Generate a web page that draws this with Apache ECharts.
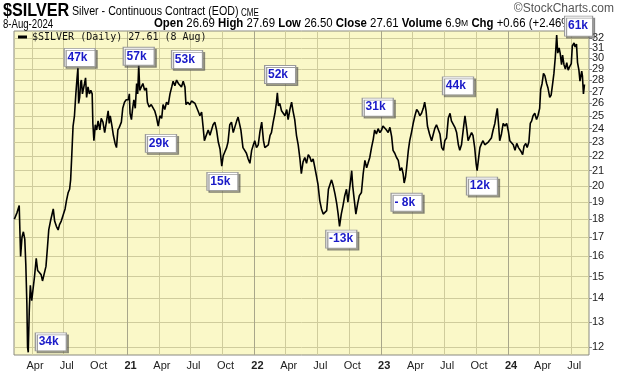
<!DOCTYPE html>
<html><head><meta charset="utf-8">
<script src="https://cdn.jsdelivr.net/npm/echarts@6/dist/echarts.min.js"></script>
<style>html,body{margin:0;padding:0;background:#fff}#c{width:620px;height:376px}</style>
</head><body><div id="c"></div>
<script>
const dates = [
'2020-02-10','2020-02-14','2020-02-18','2020-02-24','2020-02-28','2020-03-03','2020-03-07','2020-03-11','2020-03-14','2020-03-17','2020-03-19','2020-03-21','2020-03-24','2020-03-27','2020-03-31',
'2020-04-03','2020-04-08','2020-04-13','2020-04-17','2020-04-22','2020-04-27','2020-05-01','2020-05-06','2020-05-11','2020-05-15','2020-05-19','2020-05-24','2020-05-28','2020-06-01','2020-06-05',
'2020-06-10','2020-06-15','2020-06-19','2020-06-24','2020-06-29','2020-07-05','2020-07-09','2020-07-14','2020-07-18','2020-07-21','2020-07-24','2020-07-28','2020-08-01','2020-08-05','2020-08-08',
'2020-08-11','2020-08-13','2020-08-16','2020-08-19','2020-08-21','2020-08-24','2020-08-26','2020-08-30','2020-09-02','2020-09-05','2020-09-09','2020-09-13','2020-09-17','2020-09-21','2020-09-23',
'2020-09-26','2020-09-30','2020-10-04','2020-10-08','2020-10-13','2020-10-17','2020-10-22','2020-10-27','2020-11-01','2020-11-06','2020-11-09','2020-11-12','2020-11-17','2020-11-21','2020-11-26',
'2020-11-30','2020-12-04','2020-12-08','2020-12-14','2020-12-18','2020-12-23','2020-12-28',
'2021-01-03','2021-01-06','2021-01-08','2021-01-12','2021-01-15','2021-01-19','2021-01-23','2021-01-27','2021-01-30','2021-02-02','2021-02-05','2021-02-09','2021-02-14','2021-02-19','2021-02-24',
'2021-02-27','2021-03-04','2021-03-10','2021-03-15','2021-03-20','2021-03-25','2021-03-30','2021-04-04','2021-04-09','2021-04-13','2021-04-18','2021-04-23','2021-04-28','2021-05-03','2021-05-08',
'2021-05-12','2021-05-17','2021-05-22','2021-05-27','2021-05-31','2021-06-05','2021-06-10','2021-06-15','2021-06-18','2021-06-23','2021-06-29','2021-07-04','2021-07-09','2021-07-14','2021-07-19',
'2021-07-24','2021-07-28','2021-08-02','2021-08-06','2021-08-10','2021-08-14','2021-08-21','2021-08-26','2021-08-31','2021-09-04','2021-09-09','2021-09-14','2021-09-19','2021-09-24','2021-09-29',
'2021-10-03','2021-10-08','2021-10-13','2021-10-17','2021-10-22','2021-10-27','2021-11-01','2021-11-06','2021-11-11','2021-11-15','2021-11-19','2021-11-23','2021-11-29','2021-12-04','2021-12-09',
'2021-12-14','2021-12-19','2021-12-24','2021-12-29',
'2022-01-02','2022-01-07','2022-01-12','2022-01-17','2022-01-22','2022-01-27','2022-01-31','2022-02-05','2022-02-10','2022-02-15','2022-02-19','2022-02-24','2022-03-01','2022-03-05','2022-03-08',
'2022-03-11','2022-03-15','2022-03-20','2022-03-25','2022-03-30','2022-04-04','2022-04-08','2022-04-13','2022-04-18','2022-04-22','2022-04-27','2022-05-02','2022-05-07','2022-05-12','2022-05-16',
'2022-05-21','2022-05-26','2022-05-31','2022-06-05','2022-06-10','2022-06-14','2022-06-19','2022-06-24','2022-06-29','2022-07-03','2022-07-08','2022-07-13','2022-07-18','2022-07-23','2022-07-28',
'2022-08-02','2022-08-06','2022-08-11','2022-08-16','2022-08-21','2022-08-26','2022-08-30','2022-09-03','2022-09-08','2022-09-13','2022-09-18','2022-09-23','2022-09-27','2022-10-01','2022-10-05',
'2022-10-08','2022-10-11','2022-10-14','2022-10-20','2022-10-25','2022-10-30','2022-11-05','2022-11-10','2022-11-15','2022-11-20','2022-11-24','2022-11-29','2022-12-04','2022-12-09','2022-12-13',
'2022-12-18','2022-12-23','2022-12-28',
'2023-01-02','2023-01-06','2023-01-11','2023-01-16','2023-01-21','2023-01-26','2023-01-31','2023-02-04','2023-02-09','2023-02-14','2023-02-19','2023-02-24','2023-03-01','2023-03-05','2023-03-08',
'2023-03-12','2023-03-15','2023-03-20','2023-03-24','2023-03-29','2023-04-03','2023-04-08','2023-04-13','2023-04-18','2023-04-22','2023-04-27','2023-05-02','2023-05-06','2023-05-10','2023-05-14',
'2023-05-20','2023-05-26','2023-05-31','2023-06-04','2023-06-09','2023-06-14','2023-06-19','2023-06-24','2023-06-29','2023-07-03','2023-07-08','2023-07-13','2023-07-18','2023-07-22','2023-07-27',
'2023-08-01','2023-08-06','2023-08-11','2023-08-15','2023-08-20','2023-08-25','2023-08-30','2023-09-04','2023-09-08','2023-09-13','2023-09-18','2023-09-22','2023-09-27','2023-10-01','2023-10-04',
'2023-10-08','2023-10-12','2023-10-17','2023-10-21','2023-10-26','2023-10-31','2023-11-05','2023-11-10','2023-11-14','2023-11-19','2023-11-24','2023-11-28','2023-12-01','2023-12-05','2023-12-08',
'2023-12-13','2023-12-18','2023-12-23','2023-12-28',
'2024-01-02','2024-01-06','2024-01-11','2024-01-16','2024-01-21','2024-01-26','2024-01-31','2024-02-04','2024-02-08','2024-02-12','2024-02-16','2024-02-21','2024-02-25','2024-03-01','2024-03-05',
'2024-03-09','2024-03-13','2024-03-18','2024-03-23','2024-03-27','2024-04-01','2024-04-04','2024-04-08','2024-04-12','2024-04-16','2024-04-21','2024-04-25','2024-04-30','2024-05-04','2024-05-08',
'2024-05-12','2024-05-16','2024-05-20','2024-05-23','2024-05-27','2024-05-30','2024-06-03','2024-06-06','2024-06-10','2024-06-14','2024-06-18','2024-06-22','2024-06-26','2024-07-01','2024-07-04',
'2024-07-09','2024-07-12','2024-07-16','2024-07-19','2024-07-23','2024-07-26','2024-07-31','2024-08-02','2024-08-05','2024-08-07','2024-08-08'
];
const prices = [
18.0,17.9,18.4,18.8,16.0,17.0,17.3,16.9,15.6,13.8,12.0,11.8,13.5,14.6,13.9,
14.3,15.0,15.9,15.3,15.2,15.1,14.8,14.8,15.5,16.4,17.4,17.9,17.8,18.6,17.9,
17.6,17.4,17.7,17.9,18.0,18.6,19.1,19.6,19.8,20.4,21.9,24.2,25.0,26.8,28.0,
29.1,26.0,26.5,27.8,28.0,26.8,27.1,27.7,28.2,26.5,27.4,26.8,27.1,26.8,24.4,
23.1,24.3,23.9,24.6,23.9,24.8,24.5,23.7,23.7,25.4,24.4,25.0,24.2,23.5,22.9,
22.6,23.9,24.1,24.5,25.6,26.1,26.3,
26.3,26.8,25.2,24.7,25.5,26.3,25.6,27.7,26.8,29.4,27.1,27.2,27.7,27.1,27.3,
26.1,25.7,25.9,26.0,25.4,24.9,24.2,25.0,24.8,25.9,25.5,26.1,25.9,26.8,27.4,
27.9,27.5,28.0,27.7,27.7,27.4,27.9,27.4,25.9,26.1,25.9,26.2,26.3,26.0,25.9,
25.3,25.0,25.3,24.2,23.1,23.4,23.9,23.5,23.5,24.3,24.5,23.9,23.0,22.5,21.3,
22.0,22.3,22.6,23.0,24.3,24.5,23.7,23.7,24.6,24.9,25.0,23.9,22.6,22.4,22.2,
21.8,21.5,22.4,22.8,
23.1,22.6,22.8,23.8,24.5,23.1,22.6,22.5,22.8,23.5,23.7,24.5,25.2,26.0,26.9,
25.8,26.0,25.4,25.2,25.0,25.5,24.7,25.5,26.1,25.4,24.7,23.5,22.8,21.8,20.8,
21.6,21.9,21.5,22.1,21.9,21.6,21.8,21.2,20.6,20.1,19.1,18.6,18.3,18.4,18.5,
19.8,19.9,20.4,20.0,19.5,18.9,18.3,17.6,18.3,18.8,19.4,19.8,19.0,19.1,20.4,
21.0,20.0,19.4,18.3,18.9,19.4,19.6,20.8,21.7,21.2,21.5,21.9,22.6,23.2,23.9,
23.6,24.0,23.7,
23.9,24.2,24.2,23.9,23.7,24.1,23.4,22.4,22.2,21.9,21.7,21.0,21.2,20.8,20.2,
20.6,21.2,22.4,23.1,23.7,24.4,25.0,25.5,25.3,25.0,25.2,25.6,26.1,25.4,24.2,
23.6,23.1,23.6,24.0,24.3,24.2,23.6,22.6,22.4,23.1,23.3,24.8,25.2,24.6,24.7,
24.1,23.7,22.8,22.4,22.8,23.9,25.0,24.0,23.1,23.0,23.7,23.5,22.6,21.5,21.0,
21.8,22.6,22.9,23.1,22.8,22.8,23.0,23.1,23.3,23.9,24.4,25.1,25.6,24.2,23.1,
23.6,24.4,24.2,24.4,
23.8,23.1,23.0,22.8,22.4,22.9,22.6,22.6,22.3,22.1,22.7,22.9,22.6,23.0,24.4,
24.6,25.0,25.2,24.7,25.0,25.6,27.2,27.7,28.6,28.4,27.7,27.3,26.5,26.7,27.6,
28.6,30.1,32.3,30.5,31.0,30.5,29.4,30.3,29.4,29.0,29.6,28.9,29.2,29.5,31.2,
31.5,31.1,31.4,29.6,28.9,27.9,28.8,28.4,26.8,26.95,27.61
];
const yTicks = [12,13,14,15,16,17,18,19,20,21,22,23,24,25,26,27,28,29,30,31,32];
const xTicks = ['2020-04-01','2020-07-01','2020-10-01','2021-01-01','2021-04-01','2021-07-01','2021-10-01','2022-01-01','2022-04-01','2022-07-01','2022-10-01','2023-01-01','2023-04-01','2023-07-01','2023-10-01','2024-01-01','2024-04-01','2024-07-01'];
const yearTicks = ['2021-01-01','2022-01-01','2023-01-01','2024-01-01'];
const monthNames = ['Jan','Feb','Mar','Apr','May','Jun','Jul','Aug','Sep','Oct','Nov','Dec'];
const noteLabels = ['34k','47k','57k','29k','53k','15k','52k','-13k','31k','- 8k','44k','12k','61k'];
const noteDates = ['2020-05-25','2020-08-16','2021-02-02','2021-04-07','2021-06-21','2021-10-01','2022-03-16','2022-09-08','2022-12-22','2023-03-15','2023-08-10','2023-10-18','2024-07-22'];
const noteLevels = [12.2,30.1,30.2,22.9,29.9,20.3,28.5,16.9,25.7,19.0,27.5,20.0,32.4];

const ts = s => Date.parse(s + 'T00:00:00Z');
const chart = echarts.init(document.getElementById('c'), null, {renderer:'canvas'});
const seriesData = dates.map((d,i)=>[ts(d), prices[i]]);
const notes = noteLabels.map((t,i)=>({name:t, coord:[ts(noteDates[i]), noteLevels[i]],
  symbolSize: t==='61k'?[28,20]:[31,18], symbolOffset: t==='61k'?[0,-8]:[0,0]}));
const evenTicks = yTicks.filter(v=>v%2===0);
const oddTicks = yTicks.filter(v=>v%2===1);
const yBase = {type:'log', position:'right', min:11.7, max:32.72, logBase:10, offset:0, axisLine:{show:false}};
const yLabel = {margin:3, fontSize:11, color:'#222', showMaxLabel:true, showMinLabel:true, hideOverlap:false,
  formatter:function(v){return String(Math.round(v));}};

chart.setOption({
  animation:false,
  backgroundColor:'#ffffff',
  textStyle:{fontFamily:'Liberation Sans, Arial, sans-serif'},
  grid:{left:14, top:31, right:31, bottom:21, show:true, backgroundColor:'#faf8c8', borderColor:'#8a8a80', borderWidth:1, containLabel:false},
  legend:{show:true, left:18, top:32, itemWidth:9, itemHeight:3, itemGap:4, icon:'rect', padding:0,
    textStyle:{fontFamily:'DejaVu Sans Mono, monospace', fontSize:10, color:'#111'},
    data:[{name:'$SILVER (Daily) 27.61 (8 Aug)', itemStyle:{color:'#000'}}]},
  xAxis:{type:'value', min:ts('2020-02-09'), max:ts('2024-08-21'),
    axisLine:{show:false}, axisTick:{show:false, customValues:xTicks.map(ts)},
    splitLine:{show:true, lineStyle:{color:'#cfcc9c', width:1}},
    axisLabel:{customValues:xTicks.map(ts), margin:5, fontSize:11, color:'#222', padding:[0,0,0,6],
      formatter:function(v){const d=new Date(v); const m=d.getUTCMonth(); if(m===0) return '{y|'+String(d.getUTCFullYear()).slice(2)+'}'; return monthNames[m];},
      rich:{y:{fontWeight:'bold', fontSize:11, color:'#222'}}}
  },
  yAxis:[
    Object.assign({}, yBase, {
      axisTick:{show:true, length:3, customValues:yTicks, lineStyle:{color:'#888'}},
      splitLine:{show:true, lineStyle:{color:'#cfcc9c', width:1}},
      axisLabel:Object.assign({customValues:evenTicks}, yLabel)}),
    Object.assign({}, yBase, {
      axisTick:{show:false, customValues:oddTicks},
      splitLine:{show:false},
      axisLabel:Object.assign({customValues:oddTicks}, yLabel)})
  ],
  graphic:[
    {type:'text', left:3, top:2, z:1, scaleX:0.9, style:{text:'$SILVER', font:'bold 18px "Liberation Sans", Arial', fill:'#000'}},
    {type:'text', left:72, top:5, z:1, scaleX:0.82, style:{text:'Silver - Continuous Contract (EOD)', font:'13px "Liberation Sans", Arial', fill:'#000'}},
    {type:'text', left:241, top:8, z:1, scaleX:0.8, style:{text:'CME', font:'10px "Liberation Sans", Arial', fill:'#000'}},
    {type:'text', right:6, top:3, z:1, style:{text:'©StockCharts.com', font:'12px "Liberation Sans", Arial', fill:'#555'}},
    {type:'text', left:3, top:19, z:1, scaleX:0.8, style:{text:'8-Aug-2024', font:'12px "Liberation Sans", Arial', fill:'#000'}},
    {type:'text', left:154, top:18, z:1, scaleX:0.95, style:{
      text:'{b|Open} 26.69 {b|High} 27.69 {b|Low} 26.50 {b|Close} 27.61 {b|Volume} 6.9{s|M} {b|Chg} +0.66 (+2.46%)',
      font:'12px "Liberation Sans", Arial', fill:'#000',
      rich:{b:{font:'bold 12px "Liberation Sans", Arial', fill:'#000'}, s:{font:'9px "Liberation Sans", Arial', fill:'#000'}}}}
  ],
  series:[{
    name:'$SILVER (Daily) 27.61 (8 Aug)', type:'line', data:seriesData, showSymbol:false, symbol:'none', yAxisIndex:0,
    lineStyle:{color:'#000', width:1.6}, itemStyle:{color:'#000'}, z:3,
    markLine:{silent:true, symbol:'none', label:{show:false}, z:1,
      lineStyle:{color:'#a8a68a', width:1, type:'solid'},
      data:yearTicks.map(t=>({xAxis:ts(t)}))},
    markPoint:{symbol:'rect', z:10, silent:true,
      itemStyle:{color:'#ffffff', borderColor:'#9a9a9a', borderWidth:1, shadowColor:'rgba(80,80,80,0.55)', shadowOffsetX:2, shadowOffsetY:2, shadowBlur:0},
      label:{show:true, position:'insideLeft', distance:4, formatter:'{b}', color:'#1a1ac8', fontWeight:'bold', fontSize:12, fontFamily:'Liberation Sans, Arial'},
      data:notes}
  }]
});
</script></body></html>
